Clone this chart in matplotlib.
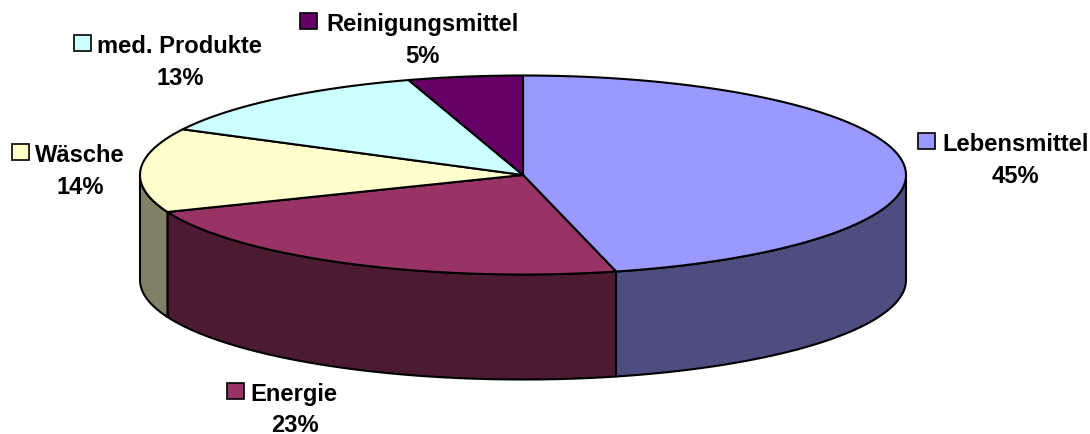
import matplotlib.pyplot as plt
from matplotlib.patches import Rectangle
import numpy as np

# Datos del grafico
names = ["Lebensmittel", "Energie", "Wäsche", "med. Produkte", "Reinigungsmittel"]
values = [45, 23, 14, 13, 5]
topColors = ["#9999FF", "#993366", "#FFFFCC", "#CCFFFF", "#660066"]
sideColors = ["#4D4D80", "#4D1A33", "#808066", "#668080", "#330033"]

# Posicion de las etiquetas en pixeles: key x, nombre x, baseline nombre, centro pct, baseline pct
labelPos = [(918, 942, 151, 1015, 183),
            (227, 250, 401, 295, 432),
            (12, 35, 162, 80, 194),
            (74, 97, 53, 180, 85),
            (300, 326, 31, 422, 63)]

# Geometria del pastel en pixeles
cx, cy = 523, 176
rx, ry = 383, 99.5
depth = 105

#Angulo medido desde arriba en sentido horario, con la distorsion de la perspectiva
def project(percent):
    theta = np.asarray(percent) * 3.6
    return theta + 4 * np.sin(np.radians(theta / 2))

def rim(a, b):
    t = np.radians(np.linspace(a, b, 200))
    return cx + rx * np.sin(t), cy - ry * np.cos(t)

plt.rcParams['font.family'] = ['Liberation Sans', 'DejaVu Sans']
fig = plt.figure(figsize=(10.9, 4.35), dpi=100)
ax = fig.add_axes([0, 0, 1, 1])
ax.set_xlim(0, 1090)
ax.set_ylim(435, 0)
ax.axis('off')

edges = project(np.concatenate(([0], np.cumsum(values))))

# Pared lateral, solo la parte frontal (90 a 270 grados)
for i in range(len(values)):
    a, b = max(edges[i], 90), min(edges[i + 1], 270)
    if a >= b:
        continue
    x, y = rim(a, b)
    ax.fill(np.r_[x, x[::-1]], np.r_[y, y[::-1] + depth], facecolor=sideColors[i],
            edgecolor='black', linewidth=1.5, joinstyle='round')

# Cara superior
for i in range(len(values)):
    x, y = rim(edges[i], edges[i + 1])
    ax.fill(np.r_[cx, x], np.r_[cy, y], facecolor=topColors[i],
            edgecolor='black', linewidth=1.5, joinstyle='round')

# Etiquetas
for i, name in enumerate(names):
    keyX, textX, textY, pctX, pctY = labelPos[i]
    ax.add_patch(Rectangle((keyX, textY - 17), 17, 16, facecolor=topColors[i],
                           edgecolor='black', linewidth=1.2))
    ax.text(textX, textY, name, fontsize=17.1, fontweight='bold', ha='left', va='baseline')
    ax.text(pctX, pctY, f"{values[i]}%", fontsize=17.1, fontweight='bold', ha='center', va='baseline')

fig.savefig("out.png", dpi=100)
